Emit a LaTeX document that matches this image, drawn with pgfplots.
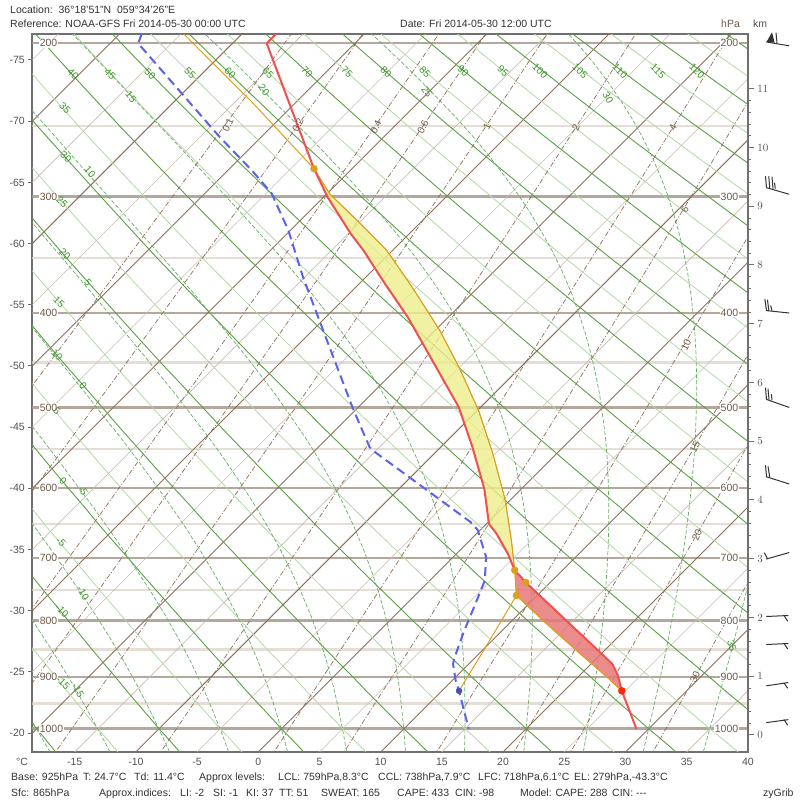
\documentclass[border=0pt]{standalone}
\usepackage{pgfplots}
\pgfplotsset{compat=1.18}
\usepackage{pgfplotstable}
\usepackage{fontspec}
\setmainfont{Liberation Sans}

\definecolor{isobar}{RGB}{180,168,156}
\definecolor{isobarl}{RGB}{228,222,214}
\definecolor{isoT}{RGB}{140,112,92}
\definecolor{isoTl}{RGB}{200,188,176}
\definecolor{dryA}{RGB}{90,160,70}
\definecolor{dryAl}{RGB}{180,216,165}
\definecolor{moistA}{RGB}{100,175,100}
\definecolor{mixR}{RGB}{140,110,88}
\definecolor{lblG}{RGB}{60,150,40}
\definecolor{lblB}{RGB}{110,90,72}
\definecolor{envT}{RGB}{240,80,80}
\definecolor{dewT}{RGB}{90,100,230}
\definecolor{parc}{RGB}{220,160,30}
\definecolor{capeF}{RGB}{238,238,140}
\definecolor{cinF}{RGB}{230,120,120}
\definecolor{frame}{RGB}{112,112,112}
\definecolor{txt}{RGB}{50,50,50}

% sounding: pressure (hPa), temperature (C)
\pgfplotstableread{
p T
150 -57.5
200 -57.2
279 -43.1
300 -39.7
329 -34.8
343 -32.4
371 -28.1
404 -23.3
444 -18.2
499 -11.8
547 -7.4
601 -3.0
649 0.2
663 1.6
693 4.2
718 6.1
737 8.0
875 21.7
896 23.1
925 24.7
1000 29.0
}\envtab

\pgfplotstableread{
p T
150 -73
200 -67.7
257 -53.4
280 -48.1
297 -44.6
326 -40.2
366 -35.2
437 -26.9
503 -20.1
547 -15.8
553 -15.0
601 -7.8
646 -1.5
658 -0.2
698 2.7
734 4.5
777 5.8
816 6.9
863 8.3
875 8.7
906 10.3
925 11.4
963 13.4
1000 15.3
}\dewtab

\pgfplotstableread{
p T
150 -80
196 -64.4
234 -53.7
279 -43.1
298 -39.7
321 -34.8
343 -30.5
369 -26.4
379 -24.9
417 -19.6
455 -15.0
503 -9.9
555 -5.2
616 -0.4
673 3.4
718 6.1
758 8.3
800 12.6
850 17.6
900 22.4
925 24.7
}\parctab

\pgfplotstableread{
p T
925 11.4
850 10.1
758 8.3
}\mixtab

\pgfplotstableread{
p T
718 6.1
673 3.4
616 -0.4
555 -5.2
503 -9.9
455 -15.0
417 -19.6
379 -24.9
369 -26.4
343 -30.5
321 -34.8
298 -39.7
279 -43.1
300 -39.7
329 -34.8
343 -32.4
371 -28.1
404 -23.3
444 -18.2
499 -11.8
547 -7.4
601 -3.0
649 0.2
663 1.6
693 4.2
718 6.1
}\capetab

\pgfplotstableread{
p T
925 24.7
896 23.1
875 21.7
737 8.0
718 6.1
758 8.3
800 12.6
850 17.6
900 22.4
925 24.7
}\cintab

\pgfplotstableread{
p T
279 -43.1
718 6.1
737 8.0
758 8.3
}\dottab

\pgfplotstableread{
p T
925 24.7
}\basetab

\pgfplotstableread{
p T
925 11.4
}\basedtab

% pressure levels for the diagram lines
\pgfplotstableread{
p T
1060 0
1040 0
1020 0
1000 0
975 0
950 0
925 0
900 0
875 0
850 0
825 0
800 0
775 0
750 0
725 0
700 0
675 0
650 0
625 0
600 0
575 0
550 0
525 0
500 0
475 0
450 0
425 0
400 0
375 0
350 0
325 0
300 0
275 0
250 0
225 0
200 0
180 0
160 0
145 0
}\ptab

% pseudo-adiabats, integrated once here (T in K, p in hPa)
\newcount\skI
\newcommand\skGrad[2]{%
  \pgfmathsetmacro\skTc{max(#1-273.15,-70)}%
  \pgfmathsetmacro\skEs{6.112*exp(17.67*\skTc/(\skTc+243.5))}%
  \pgfmathsetmacro\skRs{0.622*\skEs/(#2-\skEs)}%
  \pgfmathsetmacro\skG{0.2854*#1*(1+8713/#1*\skRs)/(1+(3671.3/#1)^2*\skRs)}%
}
\newcommand\skMoist[1]{%
  \pgfmathsetmacro\skT{#1+273.15}%
  \skGrad{\skT}{1000}%
  \pgfmathsetmacro\skTm{\skT+0.029135*\skG}%
  \skGrad{\skTm}{1029.56}%
  \pgfmathsetmacro\skT{\skT+0.05827*\skG}%
  \def\skP{1060}%
  \def\skC{}%
  \skI=0
  \loop
    \pgfmathsetmacro\skZ{44.3308*(1-(\skP/1013.25)^0.190263)}%
    \pgfmathsetmacro\skX{\skT-273.15+4.80*(\skZ+0.2894)}%
    \edef\skC{\skC(\skX,\skZ)}%
    \skGrad{\skT}{\skP}%
    \pgfmathsetmacro\skTm{\skT-0.0244425*\skG}%
    \pgfmathsetmacro\skPm{\skP*0.975854}%
    \skGrad{\skTm}{\skPm}%
    \pgfmathsetmacro\skT{\skT-0.048885*\skG}%
    \pgfmathsetmacro\skP{\skP*0.952291}%
    \advance\skI by 1
  \ifnum\skI<41 \repeat
  \global\expandafter\let\csname moist#1\endcsname\skC
}
\foreach \w in {-20,-15,...,40}{\skMoist{\w}}%

\newcommand\lab[5]{\node[text=#1,rotate=#2,font=\fontsize{10}{11}\selectfont,inner sep=0pt] at (#3,{800-#4}) {#5};}
\newcommand\btxt[3]{\node[anchor=base west,text=txt,font=\fontsize{10.5}{12}\selectfont,inner sep=0pt] at (#1,{800-#2}) {#3};}
\newcommand\seg[4]{\draw (#1,{800-#2}) -- (#3,{800-#4});}

\pgfplotsset{
  table/skewx/.style={x expr={\thisrow{T}+4.80*(zz(\thisrow{p})+0.2894)}, y expr={zz(\thisrow{p})}},
}

\begin{document}
\begin{tikzpicture}[x=1pt,y=1pt]
\path[use as bounding box] (0,0) rectangle (800,800);
\begin{axis}[
  at={(32.3pt,48pt)}, anchor=south west,
  x=12.24pt, y=58.75pt,
  xmin=-18.46, xmax=40, ymin=-0.2894, ymax=11.927,
  declare function={zz(\p)=44.3308*(1-(\p/1013.25)^0.190263);},
  axis line style={frame, line width=2pt},
  xtick={-15,-10,...,40},
  xticklabels={-15,-10,-5,0,5,10,15,20,25,30,35,40},
  ytick={0.031,1.073,2.115,3.156,4.198,5.240,6.281,7.323,8.365,9.406,10.448,11.490},
  yticklabels={-20,-25,-30,-35,-40,-45,-50,-55,-60,-65,-70,-75},
  xtick pos=bottom, ytick pos=left,
  tick align=outside,
  major tick length=4pt,
  xtick style={draw=none},
  ytick style={frame, line width=1pt},
  tick label style={font=\fontsize{10.5}{12}\selectfont, text=txt!85},
  xticklabel style={yshift=1pt},
]
% isobars
\addplot[isobarl, line width=2.5pt] coordinates {(-19,0.5403) (41,0.5403)};
\addplot[isobarl, line width=2.5pt] coordinates {(-19,1.4573) (41,1.4573)};
\addplot[isobarl, line width=2.5pt] coordinates {(-19,2.4662) (41,2.4662)};
\addplot[isobarl, line width=2.5pt] coordinates {(-19,3.5907) (41,3.5907)};
\addplot[isobarl, line width=2.5pt] coordinates {(-19,4.8652) (41,4.8652)};
\addplot[isobarl, line width=2.5pt] coordinates {(-19,6.3436) (41,6.3436)};
\addplot[isobarl, line width=2.5pt] coordinates {(-19,8.1172) (41,8.1172)};
\addplot[isobarl, line width=2.5pt] coordinates {(-19,10.3629) (41,10.3629)};
\addplot[isobar, line width=2.5pt] coordinates {(-19,0.1109) (41,0.1109)};
\addplot[isobar, line width=2.5pt] coordinates {(-19,0.9885) (41,0.9885)};
\addplot[isobar, line width=2.5pt] coordinates {(-19,1.9490) (41,1.9490)};
\addplot[isobar, line width=2.5pt] coordinates {(-19,3.0122) (41,3.0122)};
\addplot[isobar, line width=2.5pt] coordinates {(-19,4.2064) (41,4.2064)};
\addplot[isobar, line width=2.5pt] coordinates {(-19,5.5745) (41,5.5745)};
\addplot[isobar, line width=2.5pt] coordinates {(-19,7.1854) (41,7.1854)};
\addplot[isobar, line width=2.5pt] coordinates {(-19,9.1638) (41,9.1638)};
\addplot[isobar, line width=2.5pt] coordinates {(-19,11.7749) (41,11.7749)};
% isotherms
\pgfplotsinvokeforeach{-75,-65,...,35}{
  \addplot[isoTl, line width=0.6pt] table[x expr={#1+4.80*(zz(\thisrow{p})+0.2894)}, y expr={zz(\thisrow{p})}] \ptab;
}
\pgfplotsinvokeforeach{-80,-70,...,40}{
  \addplot[isoT, line width=0.9pt] table[x expr={#1+4.80*(zz(\thisrow{p})+0.2894)}, y expr={zz(\thisrow{p})}] \ptab;
}
% dry adiabats
\pgfplotsinvokeforeach{-15,-5,...,135}{
  \addplot[dryAl, line width=0.8pt] table[x expr={(#1+273.15)*(\thisrow{p}/1000)^0.2857-273.15+4.80*(zz(\thisrow{p})+0.2894)}, y expr={zz(\thisrow{p})}] \ptab;
}
\pgfplotsinvokeforeach{-20,-10,...,130}{
  \addplot[dryA, line width=0.9pt] table[x expr={(#1+273.15)*(\thisrow{p}/1000)^0.2857-273.15+4.80*(zz(\thisrow{p})+0.2894)}, y expr={zz(\thisrow{p})}] \ptab;
}
% pseudo-adiabats
\pgfplotsinvokeforeach{-20,-15,...,40}{
  \edef\tmp{\noexpand\addplot[moistA, line width=0.7pt, dash pattern=on 4pt off 2pt] coordinates {\csname moist#1\endcsname};}\tmp
}
% mixing ratio lines (g/kg)
\pgfplotsinvokeforeach{0.1,0.2,0.4,0.6,1,2,4,6,10,15,20,30}{
  \addplot[mixR, line width=0.7pt, dash pattern=on 5pt off 2pt on 1pt off 2pt] table[x expr={243.5*ln(#1*\thisrow{p}/(622+#1)/6.112)/(17.67-ln(#1*\thisrow{p}/(622+#1)/6.112))+4.80*(zz(\thisrow{p})+0.2894)}, y expr={zz(\thisrow{p})}] \ptab;
}
% CAPE / CIN areas
\addplot[draw=parc, line width=0.8pt, fill=capeF, fill opacity=0.8] table[skewx] \capetab;
\addplot[draw=parc, line width=0.8pt, fill=cinF, fill opacity=0.85] table[skewx] \cintab;
% parcel and mixing-ratio path
\addplot[parc, line width=1pt] table[skewx] \parctab;
\addplot[parc, line width=1pt] table[skewx] \mixtab;
% dewpoint and temperature
\addplot[dewT, line width=2pt, dash pattern=on 9pt off 5pt] table[skewx] \dewtab;
\addplot[envT, line width=2pt, line join=round] table[skewx] \envtab;
% levels
\addplot[only marks, mark=*, mark size=3.5pt, color=parc] table[skewx] \dottab;
\addplot[only marks, mark=*, mark size=3.5pt, color=red!70!orange] table[skewx] \basetab;
\addplot[only marks, mark=*, mark size=3pt, color=dewT!80!black] table[skewx] \basedtab;
\end{axis}
\begin{axis}[
  at={(32.3pt,48pt)}, anchor=south west,
  x=12.24pt, y=58.75pt,
  xmin=-18.46, xmax=40, ymin=-0.2894, ymax=11.927,
  hide x axis, axis y line*=right,
  y axis line style={frame, line width=2pt},
  ytick={0,1,...,11}, minor y tick num=4,
  tick align=outside, major tick length=6pt, minor tick length=3pt,
  ytick style={frame, line width=1pt}, minor y tick style={frame, line width=0.8pt},
  yticklabel style={font=\fontsize{10.5}{12}\selectfont, text=txt!85},
]
\end{axis}
% pressure labels
\foreach \pl/\yy in {200/43.2,300/196.6,400/312.9,500/407.5,600/487.9,700/558.0,800/620.5,900/676.9,1000/728.5}{
  \node[text=lblB,anchor=west,font=\fontsize{10.5}{12}\selectfont,inner sep=0.6pt,fill=white] at (39,{800-\yy}) {\pl};
  \node[text=lblB,anchor=east,font=\fontsize{10.5}{12}\selectfont,inner sep=0.6pt,fill=white] at (739,{800-\yy}) {\pl};
}
% dry adiabat labels
\foreach \t/\xx/\yy in {40/73/74,45/110/74,50/150/74,55/190/73,60/230/73,65/268/73,70/307/72,75/347/72,80/386/72,85/425/72,90/463/71,95/503/71,100/540/71,105/580/71,110/620/71,115/658/71,120/697/71,35/65/108,30/66/157,25/62/202,20/65/254,15/59/302,10/57/355,5/57/411,0/63/481,-5/61/542,-10/62/611,-15/63/683}{
  \lab{lblG}{-45}{\xx}{\yy}{\t}
}
% pseudo-adiabat labels
\foreach \t/\xx/\yy/\rr in {15/131/97/-50,20/264/90/-50,25/427/92/-55,30/608/98/-60,35/732/646/-75,10/90/172/-50,5/88/283/-52,0/83/386/-55,-5/83/491/-58,-10/83/593/-60,-15/78/690/-62}{
  \lab{lblG}{\rr}{\xx}{\yy}{\t}
}
% mixing ratio labels
\foreach \t/\xx/\yy in {0.1/228/125,0.2/298/125,0.4/376/127,0.6/423/127,1/487/127,2/576/128,4/673/128,6/685/210,10/686/345,15/695/447,20/697/535,30/695/677}{
  \lab{lblB}{65}{\xx}{\yy}{\t}
}
% corner labels
\node[anchor=base,text=txt!85,font=\fontsize{10.5}{12}\selectfont] at (22,{800-766}) {°C};
\node[anchor=base west,text=lblB,font=\fontsize{10.5}{12}\selectfont,inner sep=0pt] at (721,{800-28}) {hPa};
\node[anchor=base west,text=txt!85,font=\fontsize{10.5}{12}\selectfont,inner sep=0pt] at (753,{800-28}) {km};
% wind barbs
\begin{scope}[line width=1pt, draw=black!80, line cap=round]
\fill[black!80] (766.5,{800-42}) -- (772,{800-32.3}) -- (774.6,{800-42.6}) -- cycle;
\seg{776}{33}{777}{43}
\seg{766.5}{42}{789}{45.8}
\seg{765.5}{176.5}{766.5}{187.7}
\seg{768.8}{176.5}{769.7}{187.7}
\seg{772}{177}{773}{188.4}
\seg{774.6}{183}{775.2}{188.4}
\seg{766.5}{187.7}{789}{194.2}
\seg{764.9}{299.4}{766.5}{310.6}
\seg{767.5}{300}{768.8}{310.6}
\seg{770.7}{305.8}{772}{310.6}
\seg{766.5}{310.6}{789}{313}
\seg{765.5}{388}{766.5}{399.4}
\seg{768}{389}{769}{399.4}
\seg{771.4}{394.5}{772}{400}
\seg{766.5}{399.4}{789}{407.4}
\seg{765.5}{465.5}{766.5}{476.8}
\seg{768}{466.5}{769.7}{476.8}
\seg{766.5}{476.8}{789}{483.9}
\seg{766.5}{559}{789}{552.6}
\seg{767.5}{558.7}{764.5}{553}
\seg{766.5}{616.5}{788}{615.5}
\seg{784}{615.5}{787.5}{621}
\seg{766.5}{644.5}{788}{643.5}
\seg{784}{643.5}{787.5}{648.7}
\seg{766.5}{685.8}{788}{682.6}
\seg{784}{683}{787.5}{688}
\seg{766.5}{722.6}{788}{719.7}
\seg{784}{719.7}{787.5}{725}
\end{scope}
% header and footer
\btxt{10}{14}{Location:\ \ 36°18'51"N\ \ 059°34'26"E}
\btxt{10}{28}{Reference: NOAA-GFS Fri 2014-05-30 00:00 UTC}
\btxt{400}{28}{Date: Fri 2014-05-30 12:00 UTC}
\btxt{11}{781}{Base: 925hPa}
\btxt{83}{781}{T: 24.7°C}
\btxt{134}{781}{Td: 11.4°C}
\btxt{199}{781}{Approx levels:}
\btxt{278}{781}{LCL: 759hPa,8.3°C}
\btxt{378}{781}{CCL: 738hPa,7.9°C}
\btxt{478}{781}{LFC: 718hPa,6.1°C}
\btxt{574}{781}{EL: 279hPa,-43.3°C}
\btxt{11}{796}{Sfc: 865hPa}
\btxt{99}{796}{Approx.indices:}
\btxt{180}{796}{LI: -2}
\btxt{213}{796}{SI: -1}
\btxt{246}{796}{KI: 37}
\btxt{279}{796}{TT: 51}
\btxt{321}{796}{SWEAT: 165}
\btxt{397}{796}{CAPE: 433}
\btxt{455}{796}{CIN: -98}
\btxt{520}{796}{Model: CAPE: 288}
\btxt{612}{796}{CIN: {-}{-}{-}}
\btxt{763}{796}{zyGrib}
\end{tikzpicture}
\end{document}
